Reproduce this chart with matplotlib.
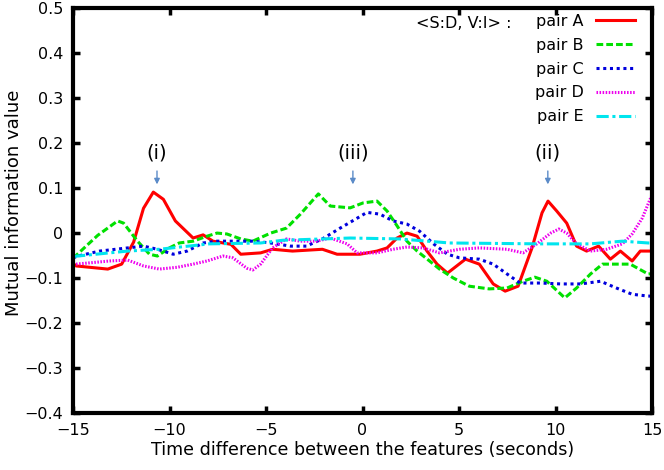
import matplotlib
matplotlib.use("Agg")
import matplotlib.pyplot as plt

# values
pair_a_x = [-15, -14.85, -13.2, -12.48, -11.86, -11.35, -10.84, -10.32, -9.7, -8.78, -8.26, -7.75,
            -6.82, -6.31, -5.28, -4.66, -3.63, -2.08, -1.32, -0.13, 0.75, 1.27, 1.79, 2.3, 2.83,
            3.34, 3.86, 4.4, 5.33, 6.05, 6.77, 7.39, 8.06, 8.78, 9.3, 9.61, 10.06, 10.58, 11.09,
            11.61, 12.23, 12.84, 13.36, 13.97, 14.39, 15]
pair_a_y = [-0.067, -0.073, -0.08, -0.069, -0.02, 0.055, 0.091, 0.075, 0.027, -0.011, -0.004, -0.018,
            -0.025, -0.047, -0.044, -0.036, -0.04, -0.036, -0.047, -0.047, -0.04, -0.033, -0.011,
            0.0, -0.007, -0.04, -0.069, -0.089, -0.058, -0.069, -0.113, -0.129, -0.118, -0.033,
            0.045, 0.071, 0.049, 0.022, -0.029, -0.04, -0.029, -0.058, -0.04, -0.062, -0.04, -0.04]

pair_b_x = [-15, -14.85, -13.72, -12.69, -12.38, -11.66, -11.04, -10.63, -10.01, -9.5, -8.78, -8.06,
            -7.54, -7.03, -6.31, -5.69, -4.76, -3.94, -3.22, -2.29, -1.67, -0.64, 0.03, 0.75, 1.27,
            1.79, 2.3, 2.83, 3.47, 3.99, 4.71, 5.53, 6.56, 7.49, 8.31, 8.93, 9.55, 10.48, 11.09,
            11.81, 12.43, 13.87, 14.8, 15]
pair_b_y = [-0.055, -0.05, -0.005, 0.027, 0.022, -0.018, -0.047, -0.051, -0.033, -0.022, -0.018,
            -0.007, 0.0, -0.002, -0.013, -0.018, 0.0, 0.011, 0.042, 0.087, 0.06, 0.056, 0.067, 0.071,
            0.049, 0.016, -0.018, -0.04, -0.062, -0.08, -0.1, -0.118, -0.124, -0.122, -0.107, -0.098,
            -0.107, -0.144, -0.122, -0.091, -0.069, -0.069, -0.091, -0.09]

pair_c_x = [-15, -14.75, -13.62, -12.17, -11.35, -10.63, -9.81, -9.09, -8.26, -7.54, -6.72, -5.69,
            -4.76, -3.73, -2.91, -2.08, -1.16, -0.28, 0.23, 0.9, 1.58, 2.3, 2.96, 3.68, 4.4, 5.02,
            6.05, 6.77, 7.49, 8.16, 9.24, 10.27, 11.3, 12.33, 13.15, 13.97, 14.8, 15]
pair_c_y = [-0.055, -0.051, -0.04, -0.033, -0.029, -0.036, -0.047, -0.04, -0.022, -0.018, -0.018,
            -0.018, -0.022, -0.029, -0.029, -0.013, 0.011, 0.033, 0.046, 0.042, 0.027, 0.02, 0.004,
            -0.024, -0.047, -0.055, -0.058, -0.069, -0.091, -0.111, -0.111, -0.113, -0.113, -0.107,
            -0.122, -0.136, -0.14, -0.14]

pair_d_x = [-15, -14.85, -13.1, -12.17, -11.35, -10.53, -9.6, -8.78, -8.06, -7.23, -6.72, -6.0,
            -5.69, -5.28, -4.66, -3.94, -3.22, -2.39, -1.67, -0.8, -0.28, 0.75, 1.58, 2.3, 3.13,
            3.99, 5.02, 6.05, 7.49, 8.31, 9.03, 9.75, 10.17, 10.58, 11.09, 11.81, 12.64, 13.46,
            13.97, 14.49, 14.8, 15]
pair_d_y = [-0.07, -0.069, -0.062, -0.06, -0.073, -0.08, -0.076, -0.069, -0.062, -0.051, -0.055,
            -0.078, -0.082, -0.069, -0.033, -0.013, -0.018, -0.018, -0.011, -0.024, -0.044, -0.044,
            -0.036, -0.031, -0.033, -0.044, -0.036, -0.033, -0.036, -0.044, -0.024, 0.0, 0.009, 0.0,
            -0.024, -0.04, -0.036, -0.024, -0.002, 0.033, 0.065, 0.085]

pair_e_x = [-15, -14.75, -12.17, -10.53, -7.95, -5.28, -4.14, -0.64, 1.93, 4.5, 9.24, 11.81, 13.46,
            14.8, 15]
pair_e_y = [-0.052, -0.051, -0.04, -0.036, -0.024, -0.022, -0.016, -0.011, -0.013, -0.022, -0.024,
            -0.024, -0.018, -0.022, -0.022]

labels = ["pair A", "pair B", "pair C", "pair D", "pair E"]
peak_labels = ["(i)", "(iii)", "(ii)"]
peak_x = [-10.65, -0.5, 9.6]

plt.rcParams["font.family"] = ["DejaVu Sans"]

fig = plt.figure(figsize=(6.64, 4.70), dpi=100)
ax = fig.add_axes([0.110, 0.121, 0.872, 0.862])

ax.plot(pair_a_x, pair_a_y, color="red", lw=2.2, label=labels[0])
ax.plot(pair_b_x, pair_b_y, color="#00e000", lw=2.2, ls=(0, (2.2, 1.0)), label=labels[1])
ax.plot(pair_c_x, pair_c_y, color="#0000dd", lw=2.2, ls=(0, (1, 1.2)), label=labels[2])
ax.plot(pair_d_x, pair_d_y, color="#ee00ee", lw=2.2, ls=(0, (0.5, 0.5)), label=labels[3])
ax.plot(pair_e_x, pair_e_y, color="#00e5ee", lw=2.2, ls=(0, (4, 1.2, 1, 1.2)), label=labels[4])

for txt, xp in zip(peak_labels, peak_x):
    ax.annotate("", xy=(xp, 0.102), xytext=(xp, 0.144),
                arrowprops=dict(arrowstyle="-|>", color="#5b8bc8", lw=1, mutation_scale=8))
    ax.text(xp, 0.178, txt, ha="center", va="center", fontsize=14)

ax.set_xlim(-15, 15)
ax.set_ylim(-0.4, 0.5)
ax.set_xticks(range(-15, 16, 5))
ax.set_yticks([i / 10 for i in range(-4, 6)])
ax.set_yticklabels(["0" if i == 0 else f"{i / 10:.1f}".replace("-", "\u2212") for i in range(-4, 6)])
ax.set_xticklabels([str(v).replace("-", "\u2212") for v in range(-15, 16, 5)])
ax.tick_params(direction="in", length=5, width=2.5, top=True, right=True, labelsize=11.5)
ax.tick_params(axis="y", pad=7)
ax.tick_params(axis="x", pad=7)
for s in ax.spines.values():
    s.set_linewidth(3)

ax.set_xlabel("Time difference between the features (seconds)", fontsize=12.6, labelpad=2)
ax.set_ylabel("Mutual information value", fontsize=13)
ax.yaxis.set_label_coords(-0.087, 0.52)

leg = ax.legend(loc="upper right", bbox_to_anchor=(0.97, 0.985), frameon=False, markerfirst=False,
                fontsize=11.5, handlelength=2.4, labelspacing=0.55, handletextpad=0.8,
                borderpad=0, borderaxespad=0)
ax.text(0.757, 0.962, "<S:D, V:I> :", transform=ax.transAxes, ha="right", va="center", fontsize=11.5)

fig.savefig("out.png", dpi=100)
